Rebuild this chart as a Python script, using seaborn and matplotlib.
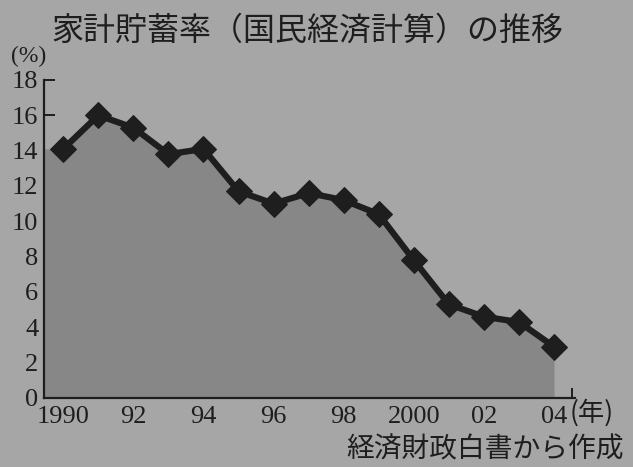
import matplotlib
matplotlib.use("Agg")
import matplotlib.pyplot as plt
import seaborn as sns
import pandas as pd
import numpy as np
from matplotlib.ticker import FixedLocator

years = [1990, 1991, 1992, 1993, 1994, 1995, 1996, 1997, 1998, 1999, 2000, 2001, 2002, 2003, 2004]
rates = [14.1, 16.0, 15.3, 13.8, 14.1, 11.7, 11.0, 11.6, 11.2, 10.4, 7.8, 5.3, 4.6, 4.3, 2.9]
xtick_years = [1990, 1992, 1994, 1996, 1998, 2000, 2002, 2004]
xtick_labels = ["1990", "92", "94", "96", "98", "2000", "02", "04"]
ytick_values = [0, 2, 4, 6, 8, 10, 12, 14, 16, 18]

title = "家計貯蓄率（国民経済計算）の推移"
unit = "(%)"
year_unit = "(年)"
source = "経済財政白書から作成"

sns.set_theme(style="white")
bg = "#a6a6a6"
fill_c = "#878787"
ink = "#1e1e1e"
serif = ["Liberation Serif", "DejaVu Serif"]
cjk = ["Noto Sans CJK JP", "DejaVu Sans"]
plt.rcParams["font.family"] = cjk

df = pd.DataFrame({"year": years, "rate": rates})

fig = plt.figure(figsize=(6.33, 4.67), dpi=100, facecolor=bg)
ax = fig.add_axes([0.0695, 0.1478, 0.9085 - 0.0695, 0.8287 - 0.1478])
ax.set_facecolor(bg)

fx = [years[0] - 0.55] + years
fy = [rates[0]] + rates
ax.fill_between(fx, 0, fy, color=fill_c, linewidth=0, zorder=1)

sns.lineplot(data=df, x="year", y="rate", ax=ax, color=ink, linewidth=4.5,
             marker="D", markersize=13, markeredgecolor=ink, markerfacecolor=ink, zorder=3)

ax.set_xlim(1989.45, 2004.6)
ax.set_ylim(0, 18)
ax.set_xlabel("")
ax.set_ylabel("")
for s in ["top", "right"]:
    ax.spines[s].set_visible(False)
for s in ["left", "bottom"]:
    ax.spines[s].set_color(ink)
    ax.spines[s].set_linewidth(1.6)

ax.set_xticks(xtick_years)
ax.set_xticklabels(xtick_labels, fontfamily=serif, fontsize=19, color=ink)
ax.xaxis.set_minor_locator(FixedLocator([y + 0.5 for y in years]))
ax.tick_params(axis="x", which="major", length=0, pad=6)
ax.tick_params(axis="x", which="minor", direction="in", length=7, width=1.4, color=ink, bottom=True)
ax.set_yticks(ytick_values)
ax.set_yticklabels([str(v) for v in ytick_values], fontfamily=serif, fontsize=19, color=ink)
ax.tick_params(axis="y", which="major", direction="in", length=8, width=1.4, color=ink, left=True, pad=4)

fig.text(0.485, 0.935, title, ha="center", va="center", fontsize=23, color=ink, family=cjk)
fig.text(0.045, 0.880, unit, ha="center", va="center", fontsize=17, color=ink, family=serif)
fig.text(0.935, 0.115, year_unit, ha="center", va="center", fontsize=19, color=ink, family=cjk)
fig.text(0.985, 0.037, source, ha="right", va="center", fontsize=20, color=ink, family=cjk)

fig.savefig("out.png", dpi=100, facecolor=bg)
